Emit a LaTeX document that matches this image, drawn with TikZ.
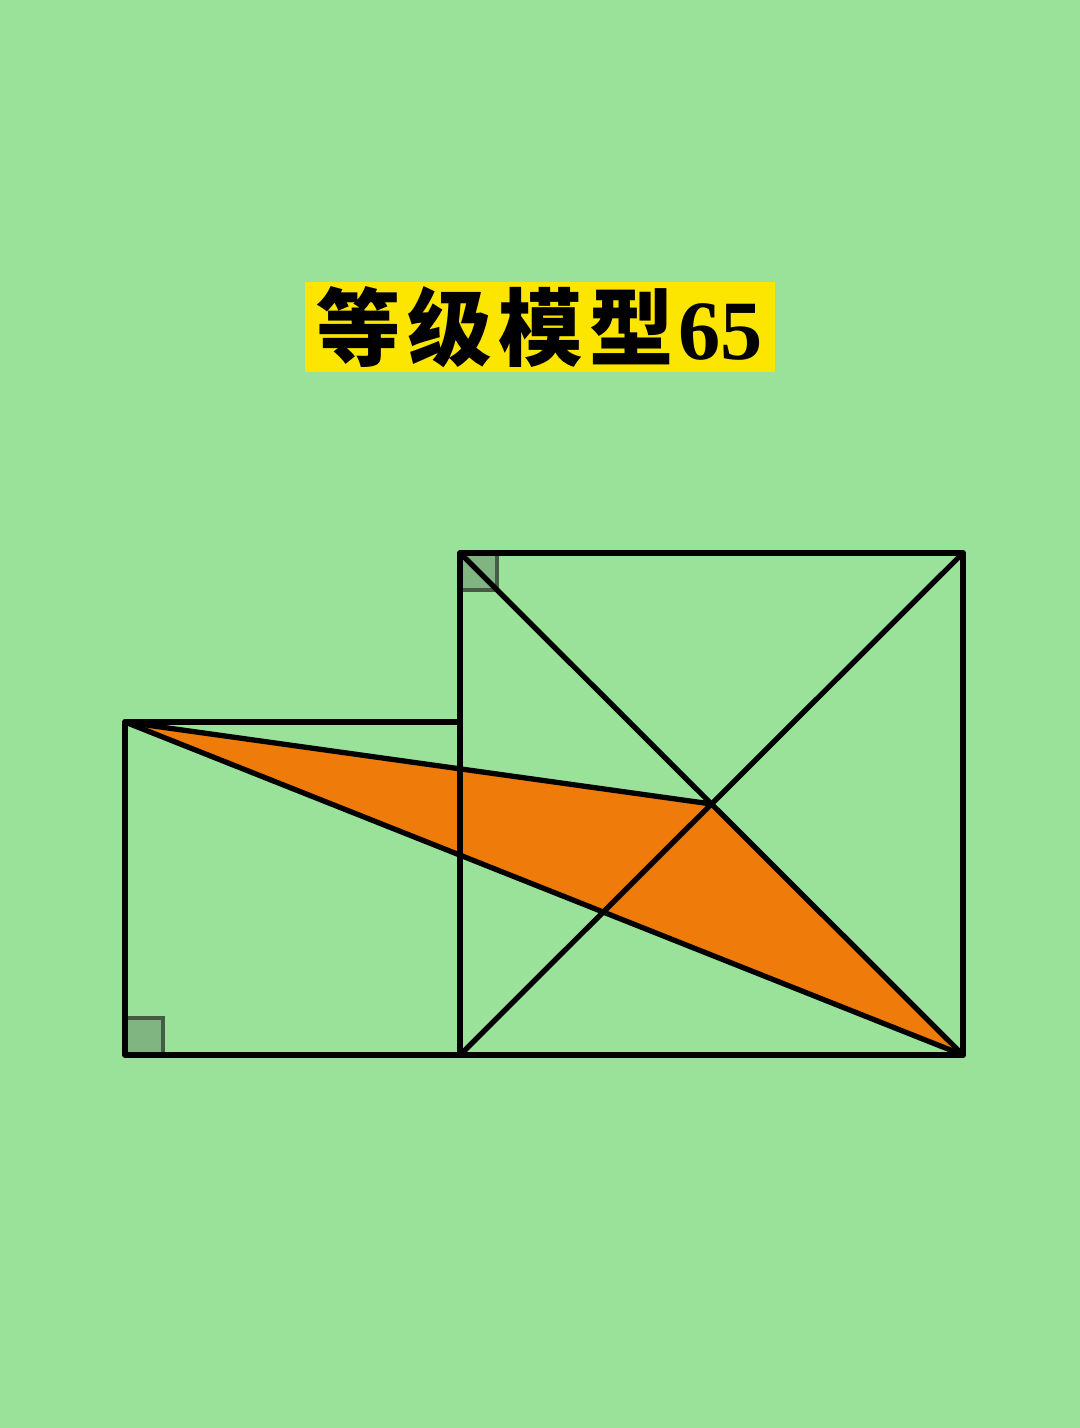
\documentclass[tikz,border=0pt]{standalone}
\usepackage{fontspec}
\newfontfamily\cjk{Noto Sans CJK SC}
\newfontfamily\digits{Liberation Serif}
\definecolor{bggreen}{RGB}{154,226,154}
\definecolor{titleyellow}{RGB}{252,230,0}
\definecolor{shadeorange}{RGB}{238,123,10}
\definecolor{markfill}{RGB}{128,180,128}
\definecolor{markline}{RGB}{70,90,70}
\tikzset{
  edge/.style={line width=1.5pt, line join=round, line cap=round},
  anglemark/.style={fill=markfill, draw=markline, line width=0.9pt}
}
\begin{document}
\begin{tikzpicture}[x=0.01cm, y=-0.01cm]
            % Background
            \fill[bggreen] (0,0) rectangle (1080,1428);
            \useasboundingbox (0,0) rectangle (1080,1428);

            % Title
            \node[fill=titleyellow, inner sep=0pt, minimum height=0.9cm,
                  text width=4.7cm, align=center] (title) at (540,327)
                 {\fontsize{24pt}{24pt}\selectfont\cjk\bfseries
                  等\kern1.8pt 级\kern1.8pt 模\kern1.8pt 型\kern1.5pt\digits 65};

            % Corners
            \coordinate (A) at (125,722);   % top-left of rectangle
            \coordinate (B) at (125,1055);  % bottom-left
            \coordinate (C) at (460,1055);  % shared bottom corner
            \coordinate (D) at (460,722);
            \coordinate (E) at (460,553);   % top-left of square
            \coordinate (F) at (963,553);
            \coordinate (G) at (963,1055);
            \coordinate (O) at (711.5,804); % centre of square

            % Shaded triangle
            \fill[shadeorange] (A) -- (O) -- (G) -- cycle;

            % Right-angle marks
            \draw[anglemark] (E) rectangle ++(37,37);
            \draw[anglemark] (B) rectangle ++(38,-37);

            % Outlines
            \draw[edge] (C) -- (B) -- (A) -- (D);
            \draw[edge] (E) rectangle (G);
            \draw[edge] (E) -- (G);
            \draw[edge] (C) -- (F);
            \draw[edge] (A) -- (G);
            \draw[edge] (A) -- (O);

        \end{tikzpicture}
\end{document}
